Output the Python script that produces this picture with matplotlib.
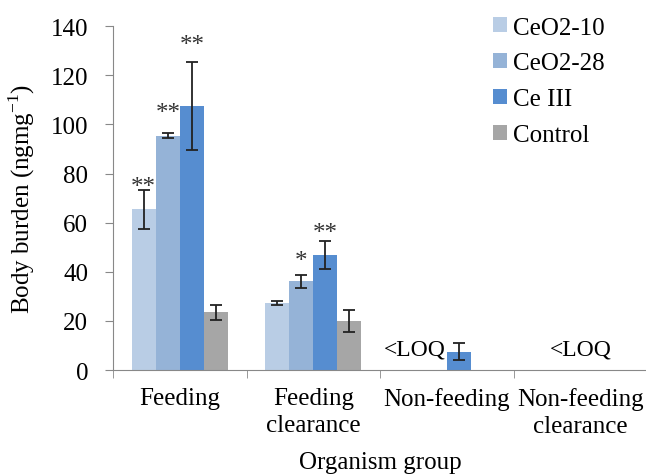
import matplotlib
matplotlib.use("Agg")
import matplotlib.pyplot as plt
import numpy as np

plt.rcParams['font.family'] = ['Liberation Serif', 'DejaVu Serif']
plt.rcParams['mathtext.fontset'] = 'custom'
plt.rcParams['mathtext.rm'] = 'Liberation Serif'

groups = ['Feeding', 'Feeding\nclearance', 'Non-feeding', 'Non-feeding\nclearance']
series = ['CeO2-10', 'CeO2-28', 'Ce III', 'Control']
colors = ['#b9cde5', '#95b3d7', '#568dd0', '#a6a6a6']

# nan = below LOQ / not shown
ceo2_10 = [65.5, 27.3, np.nan, np.nan]
ceo2_28 = [95.5, 36.1, np.nan, np.nan]
ce_iii = [107.5, 46.9, 7.5, np.nan]
control = [23.5, 20.1, np.nan, np.nan]
err_10 = [8.0, 1.0, 0, 0]
err_28 = [1.0, 2.8, 0, 0]
err_iii = [18.0, 5.6, 3.5, 0]
err_ctl = [3.0, 4.4, 0, 0]
# significance marks: (group, series) -> (text, height of mark centre)
stars = {(0, 0): ('**', 77.5), (0, 1): ('**', 107.6), (0, 2): ('**', 135.5),
         (1, 1): ('*', 47.5), (1, 2): ('**', 59.0)}
loq_x = [1.76, 3.0]
loq_y = 8.5

values = [ceo2_10, ceo2_28, ce_iii, control]
errors = [err_10, err_28, err_iii, err_ctl]

fs = 18
fig = plt.figure(figsize=(6.46, 4.77), dpi=100)
ax = fig.add_axes([0.175, 0.222, 0.827, 0.721])

x = np.arange(len(groups))
w = 0.18
for i, (name, vals, errs, c) in enumerate(zip(series, values, errors, colors)):
    pos = x + (i - 1.5) * w
    vals = np.array(vals, dtype=float)
    errs = np.array(errs, dtype=float)
    ax.bar(pos, vals, w, color=c, label=name)
    ok = ~np.isnan(vals)
    ax.errorbar(pos[ok], vals[ok], yerr=errs[ok], fmt='none', ecolor='#222222',
                elinewidth=1.3, capsize=4, capthick=1.3)

for (g, s), (txt, yc) in stars.items():
    ax.text(x[g] + (s - 1.5) * w, yc - 5.5, txt, ha='center', va='baseline',
            fontsize=fs, color='#333333')

for lx in loq_x:
    ax.text(lx, loq_y, '<LOQ', ha='center', va='center', fontsize=fs - 1)

ax.set_xlim(-0.5, 3.5)
ax.set_ylim(0, 140)
ax.set_yticks(range(0, 141, 20))
ax.set_xticks(x)
ax.set_xticklabels(groups, fontsize=fs, linespacing=1.3)
ax.set_xticks(np.arange(-0.5, 3.6, 1), minor=True)
ax.tick_params(axis='x', which='major', length=0, pad=12)
ax.tick_params(axis='x', which='minor', length=6, color='#888888')
ax.tick_params(axis='y', labelsize=fs, color='#888888', length=6, pad=12)
for sp in ['top', 'right']:
    ax.spines[sp].set_visible(False)
for sp in ['left', 'bottom']:
    ax.spines[sp].set_color('#888888')

ax.set_ylabel('Body burden (ngmg$^{\\mathregular{-1}}$)', fontsize=fs, labelpad=10)
ax.set_xlabel('Organism group', fontsize=fs, labelpad=10.5)

fig.legend(loc='upper left', bbox_to_anchor=(0.728, 1.01), frameon=False,
           fontsize=fs, handlelength=0.55, handleheight=0.55, handletextpad=0.25,
           labelspacing=0.55)

fig.savefig('out.png', dpi=100)
